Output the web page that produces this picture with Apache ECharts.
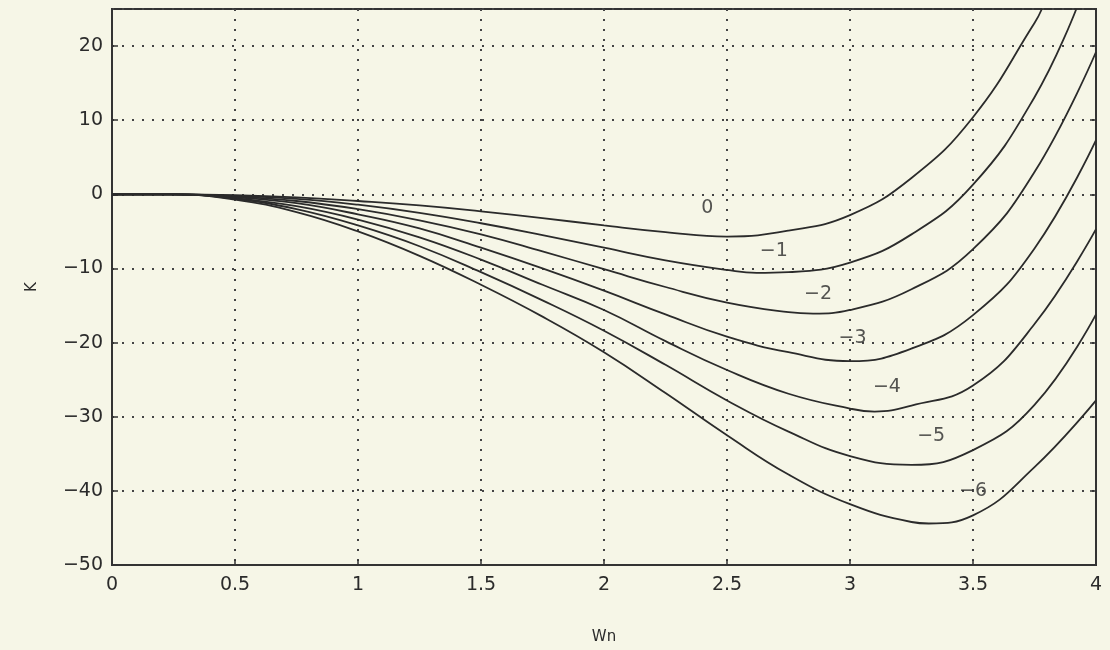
<!DOCTYPE html>
<html>
<head>
<meta charset="utf-8">
<script src="https://cdn.jsdelivr.net/npm/echarts@6/dist/echarts.min.js"></script>
<style>
  html, body { margin: 0; padding: 0; background: #f6f6e7; }
  #chart { width: 1110px; height: 650px; }
</style>
</head>
<body>
<div id="chart"></div>
<script>
// Wn sample points shared by every curve
const wn = [0, 0.25, 0.5, 0.75, 1, 1.25, 1.5, 1.75, 2, 2.25, 2.5, 2.75, 3, 3.25, 3.5, 3.75, 4];

// K values, one array per curve (null = above the top of the plot)
const k0 = [0, 0, -0.1, -0.4, -0.9, -1.5, -2.3, -3.2, -4.2, -5.1, -5.7, -4.9, -2.8, 2.2, 10.4, 23.1, null];
const k1 = [0, 0, -0.2, -0.6, -1.4, -2.5, -3.9, -5.5, -7.2, -8.9, -10.2, -10.5, -9.2, -5.4, 1.3, 13.1, null];
const k2 = [0, 0, -0.3, -0.9, -2.0, -3.5, -5.4, -7.7, -10.1, -12.5, -14.6, -15.9, -15.6, -12.8, -7.4, 3.0, 19.2];
const k3 = [0, 0, -0.4, -1.2, -2.7, -4.6, -7.2, -10.0, -13.0, -16.2, -19.2, -21.3, -22.5, -20.8, -16.3, -7.3, 7.3];
const k4 = [0, 0, -0.5, -1.6, -3.4, -5.8, -8.8, -12.2, -15.6, -19.8, -23.7, -26.9, -28.9, -28.5, -25.8, -17.5, -4.7];
const k5 = [0, 0, -0.6, -2.0, -4.2, -7.0, -10.5, -14.3, -18.4, -23.0, -27.8, -32.0, -35.3, -36.5, -34.5, -28.4, -16.2];
const k6 = [0, 0, -0.7, -2.4, -5.0, -8.3, -12.2, -16.5, -21.3, -26.8, -32.5, -37.8, -41.8, -44.2, -43.3, -36.8, -27.8];

// bottom of each curve where it falls between the shared Wn points (null = already on the grid)
const minWn = [null, 2.62, 2.85, null, 3.1, null, 3.32];
const minK = [null, -10.6, -16.1, null, -29.3, null, -44.4];

// where curves 0 and -1 leave the top edge (K = 25)
const topExitWn = [3.78, 3.92, null, null, null, null, null];

// curve labels and where they sit
const curveNames = ["0", "\u22121", "\u22122", "\u22123", "\u22124", "\u22125", "\u22126"];
const labelWn = [2.42, 2.69, 2.87, 3.01, 3.15, 3.33, 3.50];
const labelK = [-1.9, -7.7, -13.4, -19.4, -26.0, -32.6, -40.0];

const kMin = -50;
const kMax = 25;

const curves = [k0, k1, k2, k3, k4, k5, k6];

const chart = echarts.init(document.getElementById("chart"));

const fontFamily = "DejaVu Sans";
const inkColor = "#2b2b2b";
const gridDots = { color: "#444", width: 2, type: [2, 8] };

const fmtNum = (v) => String(v).replace("-", "\u2212");

const buildData = (k, i) => {
  const pts = [];
  wn.forEach((x, j) => {
    if (k[j] !== null) pts.push([x, k[j]]);
  });
  if (minWn[i] !== null) pts.push([minWn[i], minK[i]]);
  if (topExitWn[i] !== null) pts.push([topExitWn[i], kMax]);
  return pts.sort((a, b) => a[0] - b[0]);
};

const lineSeries = curves.map((k, i) => ({
  type: "line",
  name: curveNames[i],
  data: buildData(k, i),
  symbol: "none",
  smooth: 0.45,
  clip: true,
  lineStyle: { color: inkColor, width: 1.8 },
  silent: true,
}));

const labelSeries = {
  type: "scatter",
  data: labelWn.map((x, i) => ({ value: [x, labelK[i]], name: curveNames[i] })),
  symbolSize: 0,
  silent: true,
  label: {
    show: true,
    position: "inside",
    formatter: (p) => p.name,
    color: inkColor,
    fontFamily: fontFamily,
    fontSize: 19,
  },
};

const option = {
  animation: false,
  backgroundColor: "#f6f6e7",
  grid: {
    left: 112,
    right: 14,
    top: 9,
    bottom: 85,
    show: true,
    borderColor: "#333",
    borderWidth: 2,
    backgroundColor: "transparent",
  },
  xAxis: {
    type: "value",
    min: 0,
    max: 4,
    interval: 0.5,
    name: "Wn",
    nameLocation: "middle",
    nameGap: 65,
    nameTextStyle: { color: inkColor, fontFamily: fontFamily, fontSize: 15 },
    axisLine: { show: true, onZero: false, lineStyle: { color: "#333", width: 2 } },
    axisTick: { show: true, inside: true, length: 5, lineStyle: { color: "#333", width: 1.5 } },
    axisLabel: { color: inkColor, fontFamily: fontFamily, fontSize: 19, margin: 11 },
    splitLine: { show: true, lineStyle: gridDots },
  },
  yAxis: [
    {
      type: "value",
      min: kMin,
      max: kMax,
      interval: 10,
      name: "K",
      nameLocation: "middle",
      nameGap: 72,
      nameRotate: 90,
      nameTextStyle: { color: inkColor, fontFamily: fontFamily, fontSize: 15 },
      axisLine: { show: true, onZero: false, lineStyle: { color: "#333", width: 2 } },
      axisTick: { show: true, inside: true, length: 6, lineStyle: { color: "#333", width: 1.5 } },
      axisLabel: {
        color: inkColor,
        fontFamily: fontFamily,
        fontSize: 19,
        margin: 9,
        showMaxLabel: false,
        formatter: (v) => (v > 20 ? "" : fmtNum(v)),
      },
      splitLine: { show: true, lineStyle: gridDots },
    },
    {
      type: "value",
      min: kMin,
      max: kMax,
      interval: 10,
      position: "right",
      axisLine: { show: true, onZero: false, lineStyle: { color: "#333", width: 2 } },
      axisTick: { show: true, inside: true, length: 6, lineStyle: { color: "#333", width: 1.5 } },
      axisLabel: { show: false },
      splitLine: { show: false },
    },
  ],
  series: [...lineSeries, labelSeries],
};

chart.setOption(option);
</script>
</body>
</html>
